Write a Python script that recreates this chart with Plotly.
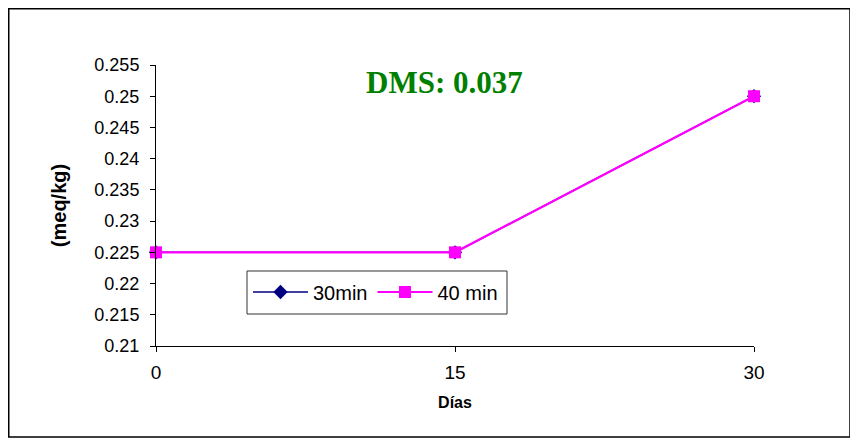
import plotly.graph_objects as go

dias = [0, 15, 30]
serie_30min = [0.225, 0.225, 0.25]
serie_40min = [0.225, 0.225, 0.25]
y_tick_vals = [0.21, 0.215, 0.22, 0.225, 0.23, 0.235, 0.24, 0.245, 0.25, 0.255]
y_tick_text = ["0.21", "0.215", "0.22", "0.225", "0.23", "0.235", "0.24", "0.245", "0.25", "0.255"]
x_tick_vals = [0, 15, 30]
x_tick_text = ["0", "15", "30"]

# page has an 8px body margin; figure coordinates below are page coords - 8
W, H = 843, 430
L, R, T, B = 148, 746, 57, 338  # plot area in figure pixels
pw, ph = R - L, B - T

def px_x(px):
    return (px - L) / pw

def px_y(py):
    return (B - py) / ph

fig = go.Figure()
fig.add_trace(go.Scatter(
    x=dias, y=serie_30min, name="30min", mode="lines+markers",
    line=dict(color="#000080", width=1.5),
    marker=dict(symbol="diamond", size=11, color="#000080"),
    cliponaxis=False,
))
fig.add_trace(go.Scatter(
    x=dias, y=serie_40min, name="40 min", mode="lines+markers",
    line=dict(color="#FF00FF", width=2.2),
    marker=dict(symbol="square", size=12, color="#FF00FF"),
    cliponaxis=False,
))

fig.update_layout(
    width=W, height=H,
    margin=dict(l=L, r=W - R, t=T, b=H - B, pad=0),
    paper_bgcolor="white", plot_bgcolor="white",
    font=dict(family="Liberation Sans, Arial, sans-serif", size=18, color="black"),
    showlegend=True,
    legend=dict(
        orientation="h",
        x=px_x(240), y=px_y(284), xanchor="left", yanchor="middle",
        borderwidth=0, bgcolor="rgba(0,0,0,0)",
        font=dict(size=20), itemwidth=55,
    ),
    xaxis=dict(
        range=[0, 30], tickvals=x_tick_vals, ticktext=x_tick_text,
        showgrid=False, zeroline=False, showline=True, linecolor="black", linewidth=1,
        ticks="outside", ticklen=5, tickcolor="black",
        tickfont=dict(size=19), ticklabelstandoff=4,
        title=dict(text="<b>Días</b>", font=dict(size=16), standoff=15),
    ),
    yaxis=dict(
        range=[0.21, 0.255], tickvals=y_tick_vals, ticktext=y_tick_text,
        showgrid=False, zeroline=False, showline=True, linecolor="black", linewidth=1,
        ticks="outside", ticklen=5, tickcolor="black",
        tickfont=dict(size=18), ticklabelstandoff=7,
        title=dict(text="<b>(meq/kg)</b>", font=dict(size=20), standoff=22),
    ),
    annotations=[dict(
        text="<b>DMS: 0.037</b>", x=px_x(436), y=px_y(74), xref="paper", yref="paper",
        showarrow=False, xanchor="center", yanchor="middle",
        font=dict(family="Liberation Serif, Times New Roman, serif", size=31, color="#008000"),
    )],
    shapes=[
        dict(
            type="rect", xref="paper", yref="paper",
            x0=px_x(0.75), x1=px_x(842), y0=px_y(429), y1=px_y(0.75),
            line=dict(color="black", width=1.5), fillcolor="rgba(0,0,0,0)", layer="below",
        ),
        dict(
            type="rect", xref="paper", yref="paper",
            x0=px_x(239), x1=px_x(499), y0=px_y(306), y1=px_y(263),
            line=dict(color="#333333", width=1), fillcolor="white", layer="below",
        ),
    ],
)

fig.write_html("out.html")
